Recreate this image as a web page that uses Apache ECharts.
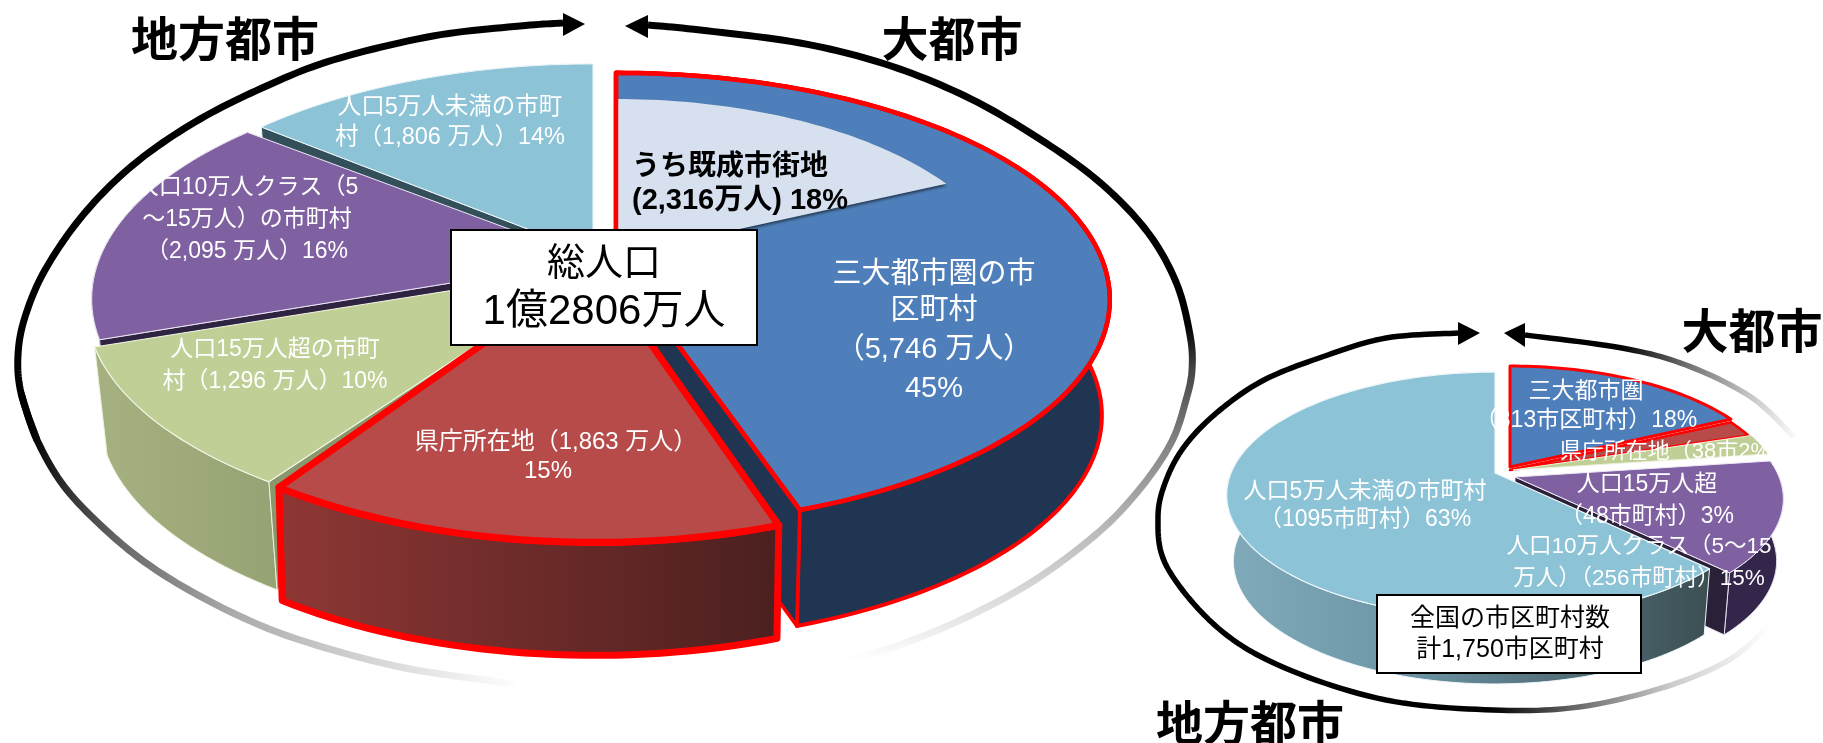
<!DOCTYPE html>
<html lang="ja">
<head>
<meta charset="utf-8">
<title>人口と市区町村数の内訳</title>
<style>
  html, body { margin: 0; padding: 0; background: #fff; }
  #chart { width: 1823px; height: 743px; }
</style>
<script src="https://cdn.jsdelivr.net/npm/echarts@6/dist/echarts.min.js"></script>
</head>
<body>
<div id="chart"></div>
<script>
// 人口（万人）: 時計回りに 12 時の方向から
const populationCategories = ['三大都市圏の市区町村', '県庁所在地', '人口15万人超の市町村', '人口10万人クラスの市町村', '人口5万人未満の市町村'];
const populationValues = [5746, 1863, 1296, 2095, 1806];
const builtUpPopulation = 2316;

// 市区町村数: 同じく時計回り
const municipalityCategories = ['三大都市圏', '県庁所在地', '人口15万人超', '人口10万人クラス', '人口5万人未満'];
const municipalityValues = [313, 38, 48, 256, 1095];

const populationLabels = [
  ['三大都市圏の市', '区町村', '（5,746 万人）', '45%'],
  ['県庁所在地（1,863 万人）', '15%'],
  ['人口15万人超の市町', '村（1,296 万人）10%'],
  ['人口10万人クラス（5', '～15万人）の市町村', '（2,095 万人）16%'],
  ['人口5万人未満の市町', '村（1,806 万人）14%']
];
const municipalityLabels = [
  ['三大都市圏', '（313市区町村）18%'],
  ['県庁所在地（38市2%'],
  ['人口15万人超', '（48市町村）3%'],
  ['人口10万人クラス（5～15', '万人）（256市町村）15%'],
  ['人口5万人未満の市町村', '（1095市町村）63%']
];
const builtUpLabel = ['うち既成市街地', '(2,316万人) 18%'];
const totalPopulationLabel = ['総人口', '1億2806万人'];
const totalMunicipalityLabel = ['全国の市区町村数', '計1,750市区町村'];

// ---- 以下は描画の設定 ----
const FONT = '"Liberation Sans","Noto Sans CJK JP",sans-serif';
const TITLE_FONT = 'bold 47px "Noto Sans CJK JP",sans-serif';
const RED = '#ff0000';
const G = (x0, x1, stops) => new echarts.graphic.LinearGradient(
  x0, 0, x1, 0, stops.map((c, i) => ({ offset: i / (stops.length - 1), color: c })), true);

// 遠近付きの楕円へ円周角を写す。k は奥行きの強さ
const bigLens = { A: 494, B: 223.5, k: 0.17 };
const smallLens = { A: 264, B: 119, k: 0.179 };

function project(deg, lens, s, bottom) {
  const t = deg * Math.PI / 180;
  const u = Math.sin(t), v = -Math.cos(t), w = 1 - lens.k * v;
  let x = lens.A * (s.sx || 1) * u / w;
  let y = lens.B * (s.sy || 1) * v / w;
  if (bottom) { x *= s.shrink; y += s.depth; }
  return [s.ax + x, s.ay + y];
}
function arc(a0, a1, lens, s, bottom) {
  const n = Math.max(8, Math.ceil(Math.abs(a1 - a0) / 1.5));
  const pts = [];
  for (let i = 0; i <= n; i++) pts.push(project(a0 + (a1 - a0) * i / n, lens, s, bottom));
  return pts;
}
function apexPoint(s, bottom) {
  return bottom ? [s.ax, s.ay + s.depth] : [s.ax, s.ay];
}

const bigSlices = [
  { ax: 616, ay: 261, sx: 0.985, sy: 0.985, depth: 116, shrink: 0.984, top: '#4f7fba', wall: '#1f3551',
    line: RED, lineW: 4.5, wallLine: RED, wallW: 4, edge: 'end', edgeFill: '#1f3551' },
  { ax: 595, ay: 265, sx: 0.985, sy: 1.03, depth: 113, shrink: 0.99, top: '#b64b4a',
    wall: G(280, 775, ['#8e3735', '#6d2b29', '#4c2020']), line: RED, lineW: 7, wallLine: RED, wallW: 7 },
  { ax: 593, ay: 268, sx: 1.01, sy: 0.99, depth: 108, shrink: 0.975, top: '#bfcf96',
    wall: G(110, 280, ['#a5b080', '#95a273']), line: '#f2f5e2', lineW: 1.2, wallLine: '#eef2dd', wallW: 1, edge: 'start', edgeFill: '#8a966c' },
  { ax: 593, ay: 260, sx: 1, sy: 1, depth: 108, shrink: 0.975, top: '#7f60a0', wall: '#2f2342',
    line: '#f0e8f6', lineW: 1, wallLine: '#cfc6dc', wallW: 1, edge: 'start', edgeFill: '#2f2342' },
  { ax: 593, ay: 254, sx: 0.96, sy: 0.995, depth: 108, shrink: 0.975, top: '#8cc3d6', wall: '#33505a',
    line: '#eef7fa', lineW: 1, wallLine: '#eef7fa', wallW: 1, edge: 'start', edgeFill: '#33505a' }
];
const bigDrawOrder = [4, 3, 2, 0, 1];
const builtUpWedge = { ax: 616, ay: 256, sx: 0.79, sy: 0.822, fill: '#d6e0ee' };

const smallSlices = [
  { ax: 1510, ay: 467, top: '#4f7fba', line: RED, lineW: 3 },
  { ax: 1510, ay: 470, top: '#b64b4a', line: RED, lineW: 2.5 },
  { ax: 1513, ay: 470, top: '#bfcf96', line: '#eef2dd', lineW: 1 },
  { ax: 1515, ay: 477, depth: 62, shrink: 0.975, top: '#7f60a0', wall: '#33264a', line: '#f0e8f6', lineW: 1, wallLine: '#e6e0ee', wallW: 1, edge: 'end', edgeFill: '#2a2038' },
  { ax: 1495, ay: 473, depth: 66, shrink: 0.975, top: '#8cc3d6',
    wall: G(1232, 1706, ['#80a9ba', '#6e98a8', '#55727e', '#3c5054']), line: '#eef7fa', lineW: 1.2, wallLine: '#eef7fa', wallW: 1 }
];
const smallDrawOrder = [0, 1, 2, 3, 4];

function angleSpans(values) {
  const total = values.reduce((a, b) => a + b, 0);
  let acc = 0;
  return values.map(v => {
    const a0 = acc / total * 360;
    acc += v;
    return [a0, acc / total * 360];
  });
}

function wedgeShape(a0, a1, lens, s) {
  return [apexPoint(s, false)].concat(arc(a0, a1, lens, s, false));
}

function sliceElements(a0, a1, lens, s) {
  const kids = [];
  // 外周の側面（奥側の扇には見える側面がない）
  if (s.wall) {
    kids.push({
      type: 'polygon',
      shape: { points: arc(a0, a1, lens, s, false).concat(arc(a1, a0, lens, s, true)) },
      style: { fill: s.wall, stroke: s.wallLine, lineWidth: s.wallW, lineJoin: 'round' }
    });
  }
  // 切り口の側面
  if (s.edge) {
    const a = s.edge === 'start' ? a0 : a1;
    kids.push({
      type: 'polygon',
      shape: { points: [apexPoint(s, false), project(a, lens, s, false), project(a, lens, s, true), apexPoint(s, true)] },
      style: { fill: s.edgeFill, stroke: s.wallLine, lineWidth: s.wallLine === RED ? 3.5 : s.wallW, lineJoin: 'round' }
    });
  }
  // 上面
  kids.push({
    type: 'polygon',
    shape: { points: wedgeShape(a0, a1, lens, s) },
    style: { fill: s.top, stroke: s.line, lineWidth: s.lineW, lineJoin: 'round' }
  });
  return kids;
}

function pieSeries(name, values, categories, slices, order, lens, extra) {
  const spans = angleSpans(values);
  return {
    type: 'custom',
    name,
    coordinateSystem: 'none',
    silent: true,
    animation: false,
    z: 2,
    data: order.map(i => ({ name: categories[i], value: [i, values[i]] })),
    renderItem(params, api) {
      const i = api.value(0);
      const kids = sliceElements(spans[i][0], spans[i][1], lens, slices[i]);
      if (extra) extra(i, kids, spans);
      return { type: 'group', children: kids };
    }
  };
}

// 三大都市圏の上面に既成市街地の扇を重ね、赤枠を描き直す
function addBuiltUp(i, kids, spans) {
  if (i !== 0) return;
  const total = populationValues.reduce((a, b) => a + b, 0);
  const end = builtUpPopulation / total * 360;
  kids.push({
    type: 'polygon',
    shape: { points: wedgeShape(0, end, bigLens, builtUpWedge) },
    style: { fill: builtUpWedge.fill, shadowBlur: 3, shadowOffsetY: 2, shadowColor: 'rgba(0,0,0,0.55)' }
  });
  const s = bigSlices[0];
  kids.push({
    type: 'polygon',
    shape: { points: wedgeShape(spans[0][0], spans[0][1], bigLens, s) },
    style: { fill: 'none', stroke: s.line, lineWidth: s.lineW, lineJoin: 'round' }
  });
}

// ---- 注釈（矢印・見出し・枠・文字） ----
// 通過点を Catmull-Rom で滑らかにつなぐ
function smoothPoints(p) {
  const out = [];
  for (let i = 0; i < p.length - 1; i++) {
    const a = p[Math.max(i - 1, 0)], b = p[i], c = p[i + 1], d = p[Math.min(i + 2, p.length - 1)];
    for (let j = 0; j < 12; j++) {
      const t = j / 12, t2 = t * t, t3 = t2 * t;
      out.push([0, 1].map(k => 0.5 * (2 * b[k] + (c[k] - a[k]) * t +
        (2 * a[k] - 5 * b[k] + 4 * c[k] - d[k]) * t2 + (3 * b[k] - a[k] - 3 * c[k] + d[k]) * t3)));
    }
  }
  out.push(p[p.length - 1]);
  return out;
}
function curve(points, stroke, width) {
  return { type: 'polyline', z: 1, silent: true, shape: { points: smoothPoints(points) },
    style: { fill: 'none', stroke, lineWidth: width, lineCap: 'butt', lineJoin: 'round' } };
}
function head(points) {
  return { type: 'polygon', z: 1, silent: true, shape: { points }, style: { fill: '#000' } };
}
function txt(text, x, y, font, fill, align) {
  return { type: 'text', z: 60, silent: true, x, y,
    style: { text, font, fill: fill || '#fff', align: align || 'center', verticalAlign: 'middle',
             textAlign: align || 'center', textVerticalAlign: 'middle' } };
}
function box(x, y, w, h) {
  return { type: 'rect', z: 50, silent: true, shape: { x, y, width: w, height: h },
    style: { fill: '#fff', stroke: '#000', lineWidth: 2 } };
}
function stack(lines, xs, ys, size) {
  return lines.map((t, i) => txt(t, Array.isArray(xs) ? xs[i] : xs, ys[i], size + 'px ' + FONT, '#fff'));
}

const fadeH = (x0, x1, s) => new echarts.graphic.LinearGradient(x0, 0, x1, 0, s, true);
const fadeV = (y0, y1, s) => new echarts.graphic.LinearGradient(0, y0, 0, y1, s, true);

const graphics = [
  // 大きい円の矢印
  curve([[563,23],[520,26],[433,36],[333,60],[262,88],[195,122],[133,165],[83,215],[45,270],[25,317],[18,355],[21,393],[37,440]], '#000', 7),
  curve([[21,393],[37,440],[67,490],[117,540],[167,577],[233,613],[300,640],[400,667],[500,682],[530,686]],
    fadeH(30, 520, [{offset:0,color:'#000'},{offset:0.08,color:'#333'},{offset:0.18,color:'#666'},{offset:0.41,color:'#aaa'},{offset:0.75,color:'#ddd'},{offset:1,color:'#fff'}]), 7),
  head([[585,24],[563,13],[563,36]]),
  curve([[648,25],[700,30],[800,43],[885,64],[965,96],[1035,136],[1097,180],[1146,230],[1176,282],[1190,335],[1192,370],[1186,400],[1172,441],[1143,485],[1100,531],[1035,580],[967,617],[900,645],[843,662]],
    fadeV(325, 660, [{offset:0,color:'#000'},{offset:0.13,color:'#444'},{offset:0.34,color:'#808080'},{offset:0.62,color:'#bbb'},{offset:0.87,color:'#e4e4e4'},{offset:1,color:'#fff'}]), 7),
  head([[625,26],[648,15],[648,38]]),
  // 小さい円の矢印
  curve([[1458,333],[1386,338],[1322,357],[1264,380],[1220,410],[1187,443],[1167,478],[1158,517],[1167,567],[1218,628],[1285,668],[1386,700],[1493,710],[1579,707],[1665,687],[1729,660],[1768,627]],
    fadeH(1490, 1770, [{offset:0,color:'#000'},{offset:0.3,color:'#666'},{offset:0.65,color:'#ccc'},{offset:1,color:'#fff'}]), 5.5),
  head([[1480,333],[1458,322],[1458,345]]),
  curve([[1525,335],[1622,348],[1686,365],[1751,397],[1794,437]],
    fadeH(1620, 1800, [{offset:0,color:'#000'},{offset:0.4,color:'#777'},{offset:0.75,color:'#ccc'},{offset:1,color:'#fff'}]), 5.5),
  head([[1504,333],[1525,323],[1525,347]]),

  // 見出し
  txt('地方都市', 225, 38, TITLE_FONT, '#000'),
  txt('大都市', 952, 38, TITLE_FONT, '#000'),
  txt('大都市', 1752, 330, TITLE_FONT, '#000'),
  txt('地方都市', 1250, 722, TITLE_FONT, '#000'),

  // 中央の枠
  box(451, 230, 306, 115),
  txt(totalPopulationLabel[0], 604, 265, '38px ' + FONT, '#000'),
  txt(totalPopulationLabel[1], 604, 312, '42px ' + FONT, '#000'),
  box(1377, 595, 264, 78),
  txt(totalMunicipalityLabel[0], 1510, 619, '25px ' + FONT, '#000'),
  txt(totalMunicipalityLabel[1], 1510, 650, '25px ' + FONT, '#000'),

  // 扇ごとの文字（大きい円）
  ...stack(populationLabels[0], 934, [275, 311, 350, 389], 29),
  ...stack(populationLabels[1], [556, 548], [442, 471], 24),
  ...stack(populationLabels[2], 275, [350, 382], 23),
  ...stack(populationLabels[3], 247, [188, 220, 252], 23),
  ...stack(populationLabels[4], 450, [108, 138], 23.5),
  txt(builtUpLabel[0], 632, 167, 'bold 28px ' + FONT, '#000', 'left'),
  txt(builtUpLabel[1], 632, 201, 'bold 29px ' + FONT, '#000', 'left'),

  // 扇ごとの文字（小さい円）
  ...stack(municipalityLabels[0], 1586, [392, 421], 23),
  ...stack(municipalityLabels[1], 1665, [452], 22),
  ...stack(municipalityLabels[2], 1647, [485, 517], 23),
  ...stack(municipalityLabels[3], 1639, [547, 579], 22.5),
  ...stack(municipalityLabels[4], 1365, [492, 520], 23)
];

const chart = echarts.init(document.getElementById('chart'), null, { renderer: 'canvas' });
chart.setOption({
  backgroundColor: '#ffffff',
  animation: false,
  series: [
    pieSeries('人口', populationValues, populationCategories, bigSlices, bigDrawOrder, bigLens, addBuiltUp),
    pieSeries('市区町村数', municipalityValues, municipalityCategories, smallSlices, smallDrawOrder, smallLens)
  ],
  graphic: { elements: graphics }
});
</script>
</body>
</html>
